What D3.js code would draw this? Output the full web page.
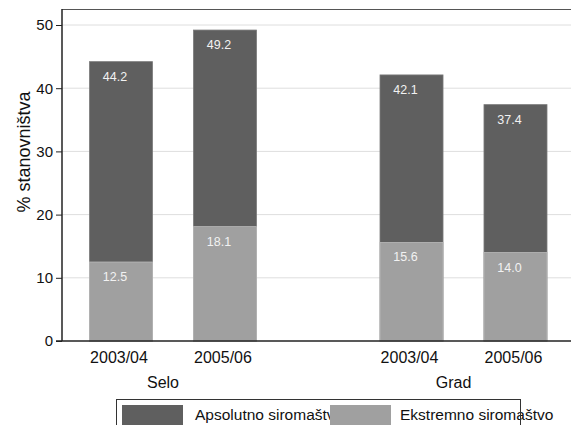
<!DOCTYPE html>
<html>
<head>
<meta charset="utf-8">
<script src="https://cdn.jsdelivr.net/npm/d3@7"></script>
<style>
  html, body { margin: 0; padding: 0; background: #fff; }
  svg { display: block; font-family: "Liberation Sans", Arial, sans-serif; }
</style>
</head>
<body>
<svg id="chart" width="571" height="425"></svg>
<script>
// ---- data ----
const groups = ["Selo", "Grad"];
const years = ["2003/04", "2005/06"];
const seriesNames = ["Apsolutno siromaštvo", "Ekstremno siromaštvo"];
const absoluteValues = [[44.2, 49.2], [42.1, 37.4]];
const extremeValues = [[12.5, 18.1], [15.6, 14.0]];
const yTicks = [0, 10, 20, 30, 40, 50];
const yTitle = "% stanovništva";

// ---- layout ----
const W = 571, H = 425;
const plotLeft = 62, plotRight = 571, plotTop = 9, plotBottom = 341;
const darkColor = "#5f5f5f", lightColor = "#a0a0a0";

const svg = d3.select("#chart");

const y = d3.scaleLinear().domain([0, 50]).range([plotBottom, 25]);
const xGroup = d3.scalePoint().domain(groups).range([173, 463.5]);
const xInner = d3.scaleBand().domain(years).range([-83.5, 83.5]).paddingInner(0.394);

// gridlines
svg.append("g").selectAll("line")
  .data(yTicks.filter(t => t > 0))
  .join("line")
  .attr("x1", plotLeft).attr("x2", plotRight)
  .attr("y1", d => y(d)).attr("y2", d => y(d))
  .attr("stroke", "#dedede").attr("stroke-width", 1);

// top frame
svg.append("line")
  .attr("x1", plotLeft).attr("x2", plotRight)
  .attr("y1", plotTop + 0.5).attr("y2", plotTop + 0.5)
  .attr("stroke", "#555").attr("stroke-width", 1.2);

// rows of bar data
const rows = [];
groups.forEach((g, gi) => years.forEach((yr, yi) => {
  rows.push({ g, yr, abs: absoluteValues[gi][yi], ext: extremeValues[gi][yi] });
}));
const bx = d => xGroup(d.g) + xInner(d.yr);
const bw = xInner.bandwidth();

// absolute bars
svg.append("g").selectAll("rect")
  .data(rows).join("rect")
  .attr("x", bx).attr("width", bw)
  .attr("y", d => y(d.abs)).attr("height", d => y(0) - y(d.abs))
  .attr("fill", darkColor).attr("stroke", "#7a7a7a").attr("stroke-width", 0.8);

// extreme bars
svg.append("g").selectAll("rect")
  .data(rows).join("rect")
  .attr("x", bx).attr("width", bw)
  .attr("y", d => y(d.ext)).attr("height", d => y(0) - y(d.ext))
  .attr("fill", lightColor).attr("stroke", "#b8b8b8").attr("stroke-width", 0.8);

// value labels
const vLabel = (key) => svg.append("g").selectAll("text")
  .data(rows).join("text")
  .attr("x", d => bx(d) + bw / 2 - 6)
  .attr("y", d => y(d[key]) + 19)
  .attr("text-anchor", "middle")
  .attr("font-size", "12.5px")
  .attr("fill", "#f2f2f2")
  .text(d => d[key].toFixed(1));
vLabel("abs");
vLabel("ext");

// y axis
const yAxis = d3.axisLeft(y).tickValues(yTicks).tickSize(6).tickSizeOuter(0).tickPadding(3);
const ga = svg.append("g").attr("transform", `translate(${plotLeft},0)`).call(yAxis);
ga.select(".domain").remove();
ga.selectAll("line").attr("stroke", "#222");
ga.selectAll("text").attr("font-size", "15px").attr("fill", "#111")
  .attr("font-family", "Liberation Sans, Arial, sans-serif");

svg.append("line")
  .attr("x1", plotLeft).attr("x2", plotLeft)
  .attr("y1", plotTop).attr("y2", plotBottom)
  .attr("stroke", "#222").attr("stroke-width", 1.5);
svg.append("line")
  .attr("x1", plotLeft - 6).attr("x2", plotRight)
  .attr("y1", plotBottom).attr("y2", plotBottom)
  .attr("stroke", "#222").attr("stroke-width", 1.5);

// y title
svg.append("text")
  .attr("transform", `translate(30,152) rotate(-90)`)
  .attr("text-anchor", "middle")
  .attr("font-size", "18px").attr("fill", "#111")
  .text(yTitle);

// x labels (years)
svg.append("g").selectAll("text")
  .data(rows).join("text")
  .attr("x", d => bx(d) + bw / 2 - 2)
  .attr("y", 363)
  .attr("text-anchor", "middle")
  .attr("font-size", "16px").attr("fill", "#111")
  .text(d => d.yr);

// group labels
svg.append("g").selectAll("text")
  .data(groups).join("text")
  .attr("x", d => xGroup(d) - 10)
  .attr("y", 388)
  .attr("text-anchor", "middle")
  .attr("font-size", "16px").attr("fill", "#111")
  .text(d => d);

// legend
const lg = svg.append("g");
lg.append("rect").attr("x", 116.5).attr("y", 399.5).attr("width", 404).attr("height", 40)
  .attr("fill", "#fff");
const legendItems = [
  { name: seriesNames[0], color: darkColor, sx: 122, tx: 195 },
  { name: seriesNames[1], color: lightColor, sx: 330, tx: 400 }
];
legendItems.forEach(it => {
  lg.append("rect").attr("x", it.sx).attr("y", 405).attr("width", 61).attr("height", 30)
    .attr("fill", it.color);
  lg.append("text").attr("x", it.tx).attr("y", 420)
    .attr("font-size", "15.5px").attr("fill", "#111").text(it.name);
});
lg.append("rect").attr("x", 116.5).attr("y", 399.5).attr("width", 404).attr("height", 40)
  .attr("fill", "none").attr("stroke", "#333").attr("stroke-width", 1);
</script>
</body>
</html>
